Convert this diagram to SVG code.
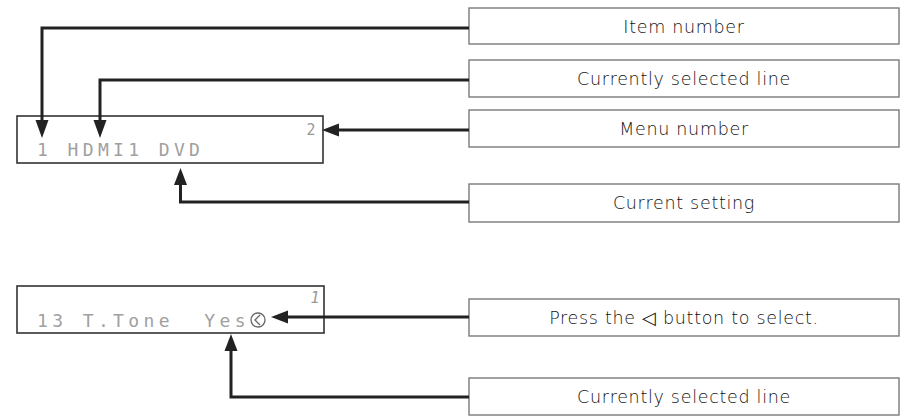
<svg xmlns="http://www.w3.org/2000/svg" width="905" height="416" viewBox="0 0 905 416">
<style>
.lbl{fill:#fff;stroke:#7a7a7a;stroke-width:1.4}
.lt{font-family:"DejaVu Sans","Liberation Sans",sans-serif;font-size:17.5px;letter-spacing:0.7px;fill:#111;text-anchor:middle;font-weight:300}
.disp{fill:#fff;stroke:#333;stroke-width:1.6}
.dt{font-family:"DejaVu Sans Mono","Liberation Mono",monospace;font-size:18px;fill:#a0a0a0;text-anchor:middle}
.sm{font-family:"DejaVu Sans Mono","Liberation Mono",monospace;font-size:15px;fill:#999;text-anchor:middle}
.con{fill:none;stroke:#222;stroke-width:3}
.ah{fill:#222}
</style>
<g id="display1">
<rect class="disp" x="17" y="116" width="306" height="47"/>
<text class="dt" xml:space="preserve" x="42.5 57.7 72.9 88.1 103.3 118.5 133.7 148.9 164.1 179.3 194.5" y="156">1 HDMI1 DVD</text>
<text class="sm" x="311" y="135">2</text>
</g>
<g id="display2">
<rect class="disp" x="17" y="286" width="307" height="47"/>
<text class="dt" xml:space="preserve" x="42.5 57.7 72.9 88.1 103.3 118.5 133.7 148.9 164.1 179.3 194.5 209.7 224.9 240.1" y="327">13 T.Tone  Yes</text>
<circle cx="258" cy="320" r="7" fill="none" stroke="#666" stroke-width="1.3"/>
<polyline points="260,315 255,320 260,325" fill="none" stroke="#666" stroke-width="1.3"/>
<text class="sm" x="315" y="303" font-size="10" font-style="italic">1</text>
</g>
<g id="item-number">
<rect class="lbl" x="469" y="8" width="430" height="36"/>
<text class="lt" x="684" y="33">Item number</text>
</g>
<g id="selected-line-1">
<rect class="lbl" x="469" y="60" width="430" height="37"/>
<text class="lt" x="684" y="85">Currently selected line</text>
</g>
<g id="menu-number">
<rect class="lbl" x="469" y="110" width="430" height="37"/>
<text class="lt" x="684" y="135">Menu number</text>
</g>
<g id="current-setting">
<rect class="lbl" x="469" y="184" width="430" height="38"/>
<text class="lt" x="684" y="209">Current setting</text>
</g>
<g id="press-button">
<rect class="lbl" x="469" y="299" width="430" height="37"/>
<text class="lt" x="684" y="324">Press the ◁ button to select.</text>
</g>
<g id="selected-line-2">
<rect class="lbl" x="469" y="378" width="430" height="37"/>
<text class="lt" x="684" y="403">Currently selected line</text>
</g>
<g id="connectors">
<polyline class="con" points="469,28 42,28 42,122"/>
<polygon class="ah" points="42,138 35.5,120 48.5,120"/>
<polyline class="con" points="469,80 100,80 100,122"/>
<polygon class="ah" points="100,138 93.5,120 106.5,120"/>
<polyline class="con" points="469,130 336,130"/>
<polygon class="ah" points="322,130 339,123.5 339,136.5"/>
<polyline class="con" points="469,202 180.5,202 180.5,183"/>
<polygon class="ah" points="180.5,168 174,185 187,185"/>
<polyline class="con" points="469,317 285,317"/>
<polygon class="ah" points="271,317 288,310.5 288,323.5"/>
<polyline class="con" points="469,397 231,397 231,348"/>
<polygon class="ah" points="231,334 224.5,351 237.5,351"/>
</g>
</svg>
